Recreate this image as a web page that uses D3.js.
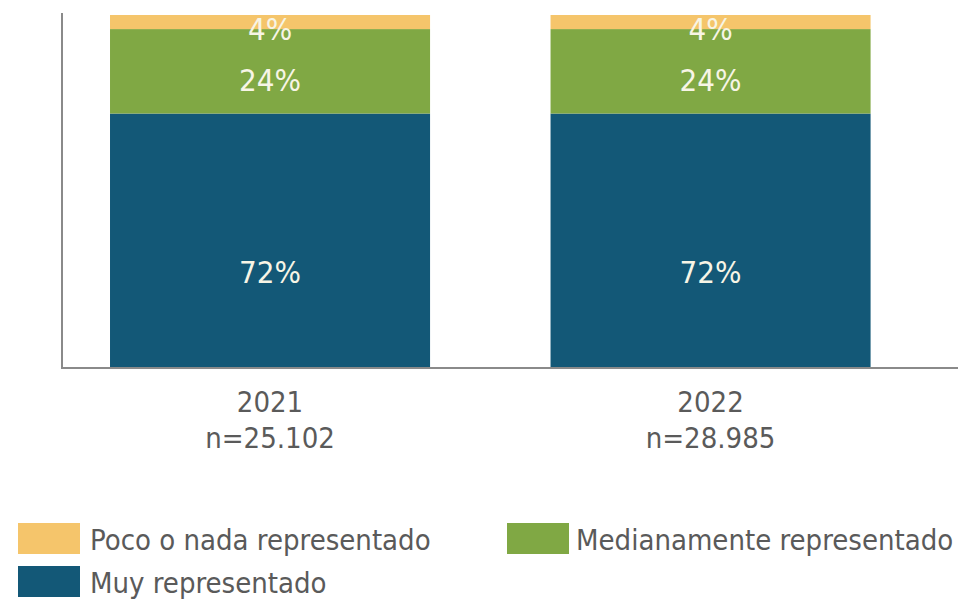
<!DOCTYPE html>
<html>
<head>
<meta charset="utf-8">
<script src="https://cdn.jsdelivr.net/npm/d3@7"></script>
<style>
  body { margin: 0; background: #fff; }
  text { font-family: "DejaVu Sans Condensed", "Liberation Sans Narrow", sans-serif; }
</style>
</head>
<body>
<div id="chart"></div>
<script>
// datos
var years = ["2021", "2022"];
var sampleSizes = ["n=25.102", "n=28.985"];
var seriesNames = ["Muy representado", "Medianamente representado", "Poco o nada representado"];
var muy = [72, 72];
var mediana = [24, 24];
var poco = [4, 4];

var colors = ["#135877", "#80a844", "#f5c56b"];
// desplazamiento vertical de la etiqueta respecto al centro del segmento
var labelShift = { "Muy representado": 43, "Medianamente representado": 20, "Poco o nada representado": 18 };

var width = 958;
var height = 601;

var svg = d3.select("#chart")
  .append("svg")
  .attr("width", width)
  .attr("height", height);

var x = d3.scaleBand()
  .domain(years)
  .range([62, 918.6])
  .paddingInner(0.2735)
  .paddingOuter(0.109);

var y = d3.scaleLinear()
  .domain([0, 100])
  .range([367, 15]);

var rows = years.map(function (yr, i) {
  return { year: yr, n: sampleSizes[i], "Muy representado": muy[i], "Medianamente representado": mediana[i], "Poco o nada representado": poco[i] };
});

var stack = d3.stack().keys(seriesNames);
var layers = stack(rows);

var color = d3.scaleOrdinal().domain(seriesNames).range(colors);

// barras apiladas
var layer = svg.selectAll(".layer")
  .data(layers)
  .enter()
  .append("g")
  .attr("class", "layer")
  .attr("fill", function (d) { return color(d.key); });

layer.selectAll("rect")
  .data(function (d) { return d; })
  .enter()
  .append("rect")
  .attr("x", function (d) { return x(d.data.year); })
  .attr("width", x.bandwidth())
  .attr("y", function (d) { return y(d[1]); })
  .attr("height", function (d) { return y(d[0]) - y(d[1]); });

// etiquetas de porcentaje
layer.each(function (serie) {
  d3.select(this).selectAll("text")
    .data(serie)
    .enter()
    .append("text")
    .attr("x", function (d) { return x(d.data.year) + x.bandwidth() / 2; })
    .attr("y", function (d) { return y((d[0] + d[1]) / 2) + labelShift[serie.key]; })
    .attr("text-anchor", "middle")
    .attr("font-size", 31)
    .attr("fill", "#f7f5e6")
    .text(function (d) { return (d[1] - d[0]) + "%"; });
});

// ejes
svg.append("line")
  .attr("x1", 62).attr("x2", 62)
  .attr("y1", 13).attr("y2", y(0))
  .attr("stroke", "#8a8a8a").attr("stroke-width", 2);

svg.append("line")
  .attr("x1", 61).attr("x2", width)
  .attr("y1", y(0) + 1).attr("y2", y(0) + 1)
  .attr("stroke", "#8a8a8a").attr("stroke-width", 2);

var xLabels = svg.selectAll(".xlab")
  .data(rows)
  .enter()
  .append("text")
  .attr("class", "xlab")
  .attr("text-anchor", "middle")
  .attr("font-size", 29)
  .attr("fill", "#5a5a5a")
  .attr("x", function (d) { return x(d.year) + x.bandwidth() / 2; })
  .attr("y", 412);

xLabels.append("tspan").text(function (d) { return d.year; });
xLabels.append("tspan")
  .attr("x", function (d) { return x(d.year) + x.bandwidth() / 2; })
  .attr("dy", 36)
  .text(function (d) { return d.n; });

// leyenda
var legendItems = [
  { name: "Poco o nada representado", x: 18, y: 523 },
  { name: "Medianamente representado", x: 507, y: 523 },
  { name: "Muy representado", x: 18, y: 566 }
];

var legend = svg.selectAll(".legend")
  .data(legendItems)
  .enter()
  .append("g")
  .attr("class", "legend")
  .attr("transform", function (d) { return "translate(" + d.x + "," + d.y + ")"; });

legend.append("rect")
  .attr("width", 62)
  .attr("height", 31)
  .attr("fill", function (d) { return color(d.name); });

legend.append("text")
  .attr("x", function (d) { return d.x > 100 ? 69 : 72; })
  .attr("y", 27)
  .attr("font-size", 29)
  .attr("fill", "#5a5a5a")
  .text(function (d) { return d.name; });
</script>
</body>
</html>
